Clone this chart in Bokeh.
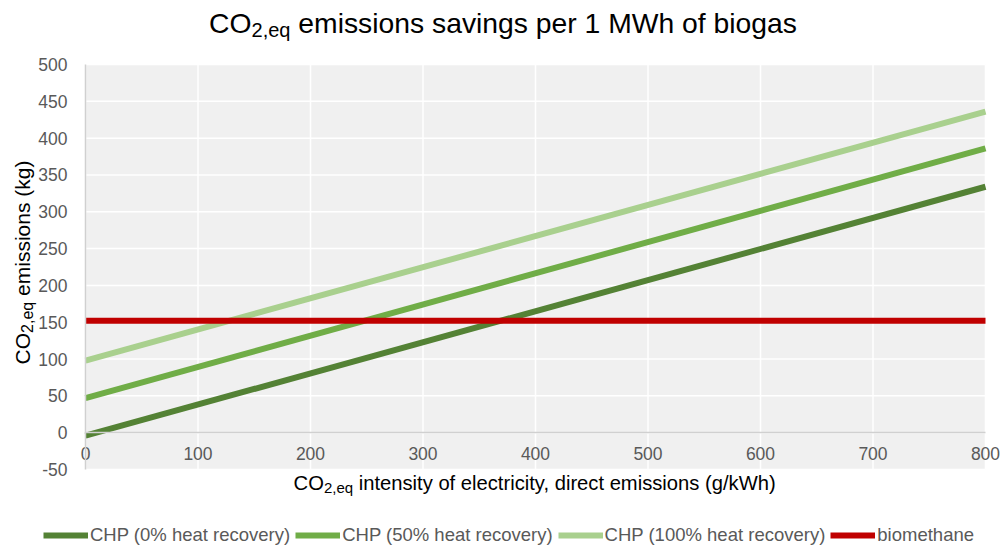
import math
from bokeh.plotting import figure
from bokeh.models import Label, Legend, LegendItem, FixedTicker
from bokeh.embed import file_html
from bokeh.resources import INLINE

# ---- data ----
x_vals = [0, 800]
chp_0 = [-4, 334]
chp_50 = [47, 386]
chp_100 = [98, 436]
biomethane = [152, 152]
series_labels = ["CHP (0% heat recovery)", "CHP (50% heat recovery)",
                 "CHP (100% heat recovery)", "biomethane"]
x_ticks = [0, 100, 200, 300, 400, 500, 600, 700, 800]
y_ticks = [-50, 0, 50, 100, 150, 200, 250, 300, 350, 400, 450, 500]

title_main = "CO"
title_sub = "2,eq"
title_rest = " emissions savings per 1 MWh of biogas"
xlab_rest = " intensity of electricity, direct emissions (g/kWh)"
ylab_rest = " emissions (kg)"

# ---- layout (pixels) ----
FONT = "Liberation Sans"
colors = ["#548235", "#70AD47", "#A9D08E", "#C00000"]
W, H = 1000, 548
PL, PR, PT, PB = 85, 985, 64, 469   # plot-area pixel box
xmin, xmax = x_ticks[0], x_ticks[-1]
ymin, ymax = y_ticks[0], y_ticks[-1]
sx = (PR - PL) / (xmax - xmin)
sy = (PB - PT) / (ymax - ymin)
x_start = xmin - PL / sx
x_end = xmax + (W - PR) / sx
y_start = ymin - (H - PB) / sy
y_end = ymax + PT / sy

AW = {' ': 278, '(': 333, ')': 333, ',': 278, '/': 278, '%': 889,
      'C': 722, 'O': 778, 'H': 722, 'P': 667, 'M': 833, 'W': 944,
      'a': 556, 'b': 556, 'c': 500, 'd': 556, 'e': 556, 'f': 278, 'g': 556,
      'h': 556, 'i': 222, 'k': 500, 'l': 222, 'm': 833, 'n': 556, 'o': 556,
      'p': 556, 'q': 556, 'r': 333, 's': 500, 't': 278, 'v': 500, 'y': 500}


def tw(s, px):
    return sum(AW.get(c, 556) for c in s) / 1000.0 * px


p = figure(width=W, height=H, x_range=(x_start, x_end), y_range=(y_start, y_end),
           output_backend="svg", toolbar_location=None, title=None,
           min_border_left=0, min_border_right=0,
           min_border_top=0, min_border_bottom=0)
p.background_fill_color = "white"
p.border_fill_color = "white"
p.outline_line_color = None
p.xgrid.visible = False
p.ygrid.visible = False

# plot area background and gridlines
p.quad(left=[xmin], right=[xmax], bottom=[ymin], top=[ymax],
       fill_color="#F0F0F0", line_color=None)
p.segment(x0=x_ticks, y0=[ymin] * len(x_ticks), x1=x_ticks, y1=[ymax] * len(x_ticks),
          line_color="white", line_width=1.5)
p.segment(x0=[xmin] * len(y_ticks), y0=y_ticks, x1=[xmax] * len(y_ticks), y1=y_ticks,
          line_color="white", line_width=1.5)

renderers = []
for ys, c in zip([chp_0, chp_50, chp_100, biomethane], colors):
    r = p.line(x_vals, ys, line_color=c, line_width=6, line_cap="butt")
    renderers.append(r)

# axes
p.xaxis.ticker = FixedTicker(ticks=x_ticks)
p.yaxis.ticker = FixedTicker(ticks=y_ticks)
p.xaxis.fixed_location = 0
p.yaxis.fixed_location = xmin
p.xaxis.bounds = (xmin, xmax)
p.yaxis.bounds = (ymin, ymax)
p.yaxis.major_label_overrides = {-50: "-50"}
for ax in (p.xaxis, p.yaxis):
    ax.axis_line_color = "#D0D0D0"
    ax.axis_line_width = 1.5
    ax.major_tick_line_color = None
    ax.minor_tick_line_color = None
    ax.major_tick_out = 0
    ax.major_tick_in = 0
    ax.major_label_text_font = FONT
    ax.major_label_text_font_size = "17.5px"
    ax.major_label_text_color = "#595959"
p.xaxis.major_label_standoff = 14
p.yaxis.major_label_standoff = 18

common = dict(x_units="screen", y_units="screen", text_font=FONT,
              text_align="left", text_baseline="alphabetic", text_color="#000000")


def sub_label(x0, y0, main, sub, rest, f, fs, dy, rotated=False):
    parts = [(main, f, 0), (sub, fs, dy), (rest, f, 0)]
    pos = 0.0
    for txt, size, off in parts:
        stripped = txt.lstrip(" ")
        pos += tw(txt[:len(txt) - len(stripped)], size)
        if rotated:
            lab = Label(x=x0 + off, y=y0 + pos, text=stripped,
                        text_font_size=f"{size}px", angle=math.pi / 2, **common)
        else:
            lab = Label(x=x0 + pos, y=y0 - off, text=stripped,
                        text_font_size=f"{size}px", **common)
        p.add_layout(lab)
        pos += tw(stripped, size)


# title
tf, tfs = 28.3, 20
tot = tw(title_main, tf) + tw(title_sub, tfs) + tw(title_rest, tf)
sub_label(502.5 - tot / 2, H - 22, title_main, title_sub, title_rest, tf, tfs, 7)

# x axis title
af, afs = 20.2, 15
tot = tw(title_main, af) + tw(title_sub, afs) + tw(xlab_rest, af)
sub_label((PL + PR) / 2 - tot / 2, H - 482, title_main, title_sub, xlab_rest, af, afs, 5)

# y axis title (rotated)
yf, yfs = 21, 16
tot = tw(title_main, yf) + tw(title_sub, yfs) + tw(ylab_rest, yf)
sub_label(22, (H - 262) - tot / 2, title_main, title_sub, ylab_rest, yf, yfs, 5,
          rotated=True)

# legend
items = [LegendItem(label=lab, renderers=[r]) for lab, r in zip(series_labels, renderers)]
legend = Legend(items=items, orientation="horizontal", location=(43, 2),
                padding=0, margin=0, spacing=5, label_standoff=2,
                glyph_width=45, glyph_height=16, label_height=16,
                label_text_font=FONT, label_text_font_size="18.5px",
                label_text_color="#595959", border_line_color=None,
                background_fill_alpha=0)
p.add_layout(legend, "center")

open("out.html", "w").write(file_html(p, INLINE))
